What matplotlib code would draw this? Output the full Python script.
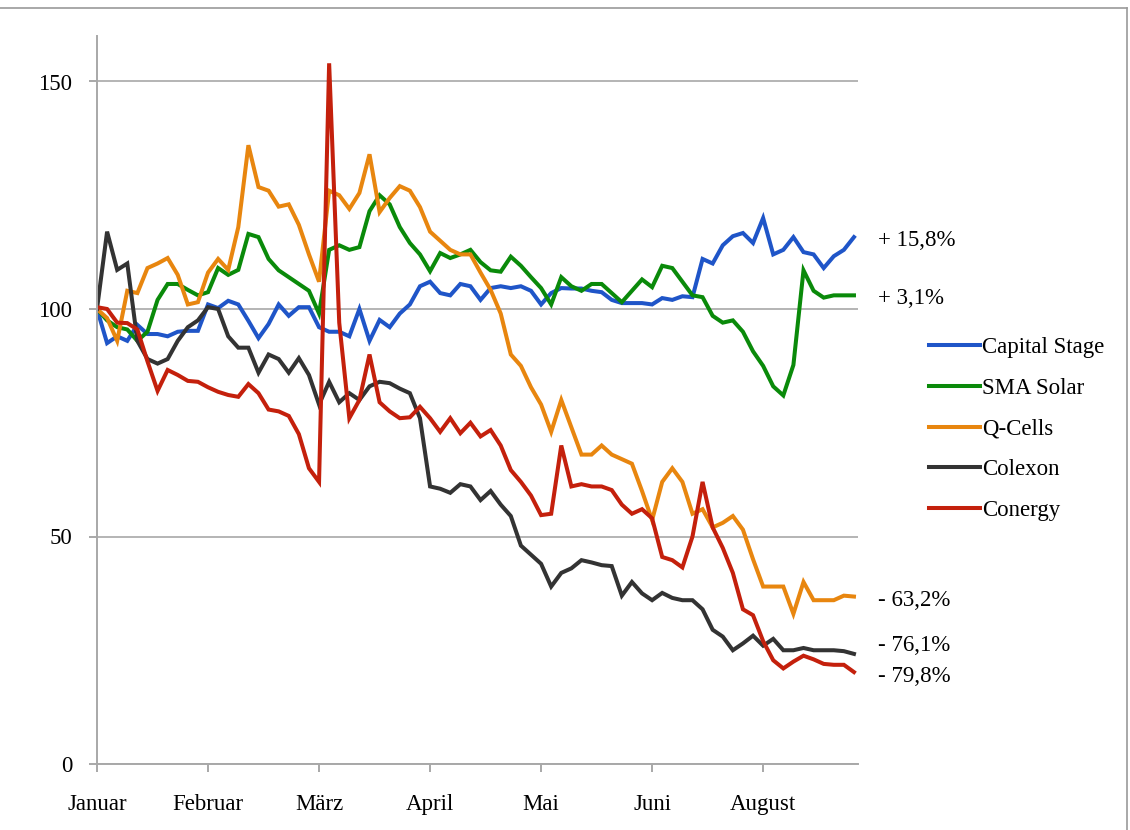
import numpy as np
import matplotlib.pyplot as plt
from matplotlib.lines import Line2D

plt.rcParams["font.family"] = ["Liberation Serif", "DejaVu Serif"]

# trading days, sampled every 2nd day
days = np.arange(0, 152, 2)

months = ["Januar", "Februar", "März", "April", "Mai", "Juni", "August"]
month_days = [0, 22, 44, 66, 88, 110, 132]

capital_stage = [
    100, 92.5, 94, 93, 96.5, 94.5, 94.5, 94, 95, 95.2,
    95.2, 101, 100.2, 101.8, 101, 97.4, 93.6, 96.7, 101, 98.5,
    100.4, 100.4, 96, 95, 95, 94, 100, 93, 97.6, 96,
    99, 101, 105, 106, 103.5, 103, 105.5, 105, 102, 104.6,
    105, 104.6, 105, 104, 101, 103.5, 104.6, 104.5, 104.5, 104,
    103.7, 102, 101.3, 101.3, 101.3, 101, 102.4, 102, 102.8, 102.6,
    111, 110, 114, 116, 116.7, 114.5, 120, 112, 113, 115.8,
    112.5, 112, 109, 111.6, 113, 115.8,
]
sma_solar = [
    100, 97.5, 96, 95.5, 93, 95, 102, 105.5, 105.5, 104.2,
    103, 103.7, 109, 107.5, 108.6, 116.5, 115.8, 111, 108.5, 107,
    105.5, 104, 99, 113, 114, 113, 113.6, 121.5, 125, 123,
    118, 114.5, 112, 108.3, 112.3, 111.2, 112, 113, 110.3, 108.5,
    108.2, 111.5, 109.5, 107, 104.6, 101, 107, 105, 104, 105.5,
    105.5, 103.5, 101.5, 104, 106.5, 104.8, 109.5, 109, 106, 103,
    102.6, 98.5, 97, 97.5, 95, 90.7, 87.5, 83, 81, 87.7,
    108.5, 104, 102.5, 103, 103, 103,
]
q_cells = [
    100, 98, 93, 104, 103.5, 109, 110, 111.2, 107.5, 101,
    101.5, 108, 111, 108.6, 118, 136, 126.8, 126, 122.5, 123,
    118.5, 112, 106, 126, 125, 122, 125.5, 134, 121.3, 124.4,
    127, 126, 122.4, 117, 115, 113, 112, 112, 108, 104.2,
    99, 90, 87.5, 82.8, 79, 73, 80, 74, 68, 68,
    70, 68, 67, 66, 60, 53.6, 62, 65, 62, 55,
    56, 52, 53, 54.5, 51.5, 45, 39, 39, 39, 33,
    40, 36, 36, 36, 37, 36.8,
]
colexon = [
    100, 117, 108.6, 110, 93, 89, 88, 89, 93, 96,
    97.5, 100.4, 100, 94, 91.5, 91.5, 86, 90, 89, 86,
    89.2, 85.5, 79, 84, 79.5, 81.5, 80, 83, 84, 83.7,
    82.5, 81.5, 76, 61, 60.5, 59.6, 61.5, 61, 58, 60,
    57, 54.5, 48, 46, 44, 39, 42, 43, 44.8, 44.3,
    43.7, 43.5, 37, 40, 37.5, 36, 37.6, 36.5, 36, 36,
    34, 29.5, 28, 25, 26.5, 28.2, 26, 27.5, 25, 25,
    25.5, 25, 25, 25, 24.8, 24.2,
]
conergy = [
    100.4, 100, 97, 96.9, 95.5, 88.5, 82, 86.6, 85.5, 84.2,
    84, 82.8, 81.8, 81.1, 80.7, 83.5, 81.5, 77.9, 77.5, 76.5,
    72.5, 65, 62, 154, 97, 76, 80, 90, 79.5, 77.5,
    76, 76.2, 78.5, 76, 73, 76, 72.7, 75, 72, 73.4,
    70, 64.6, 62, 59, 54.7, 55, 70, 61, 61.5, 61,
    61, 60.2, 57, 55, 56, 54, 45.5, 44.8, 43.2, 50,
    62, 52, 47.5, 42, 34, 32.7, 27, 22.8, 21, 22.5,
    23.8, 23, 22, 21.8, 21.8, 20.2,
]

names = ["Capital Stage", "SMA Solar", "Q-Cells", "Colexon", "Conergy"]
colors = ["#1f55c8", "#0a8a0a", "#e8860f", "#333333", "#c4200c"]
series = [capital_stage, sma_solar, q_cells, colexon, conergy]

end_labels = ["+ 15,8%", "+ 3,1%", "- 63,2%", "- 76,1%", "- 79,8%"]
end_label_y = [241, 299, 600, 645, 677]  # pixel rows of the end labels

fig = plt.figure(figsize=(11.3, 8.3), dpi=100)
ax = fig.add_axes([97 / 1130, 66 / 830, 761 / 1130, 728 / 830])

for vals, c, name in zip(series, colors, names):
    ax.plot(days, vals, color=c, lw=2.9, label=name, solid_joinstyle="miter")

ax.set_xlim(0, 150.8)
ax.set_ylim(0, 160)
ax.set_yticks([0, 50, 100, 150])
ax.set_xticks(month_days)
ax.set_xticklabels(months)
ax.grid(True, axis="y", color="#b4b4b4", lw=1.4)
ax.set_axisbelow(True)
for side in ["top", "right"]:
    ax.spines[side].set_visible(False)
for side in ["left", "bottom"]:
    ax.spines[side].set_color("#a8a8a8")
    ax.spines[side].set_linewidth(1.4)
ax.tick_params(axis="x", length=6, width=1.4, color="#a8a8a8", pad=15.5, labelsize=16.5)
ax.tick_params(axis="y", length=6, width=1.4, color="#a8a8a8", pad=12, labelsize=16.5)

handles = [Line2D([], [], color=c, lw=2.9) for c in colors]
fig.legend(handles, names, loc="upper left", bbox_to_anchor=(920 / 1130, 1 - 328 / 830),
           frameon=False, fontsize=16.5, handlelength=2.2, handletextpad=0.1,
           labelspacing=0.86, borderaxespad=0)

for txt, py in zip(end_labels, end_label_y):
    fig.text(878 / 1130, 1 - py / 830, txt, fontsize=16.5, va="center", ha="left")

# thin frame around the picture (top and right edges)
fig.add_artist(Line2D([0, 1127 / 1130], [1 - 8 / 830, 1 - 8 / 830], color="#9a9a9a", lw=1.2,
                      transform=fig.transFigure))
fig.add_artist(Line2D([1127 / 1130, 1127 / 1130], [0, 1 - 8 / 830], color="#9a9a9a", lw=1.2,
                      transform=fig.transFigure))

fig.savefig("out.png", dpi=100)
